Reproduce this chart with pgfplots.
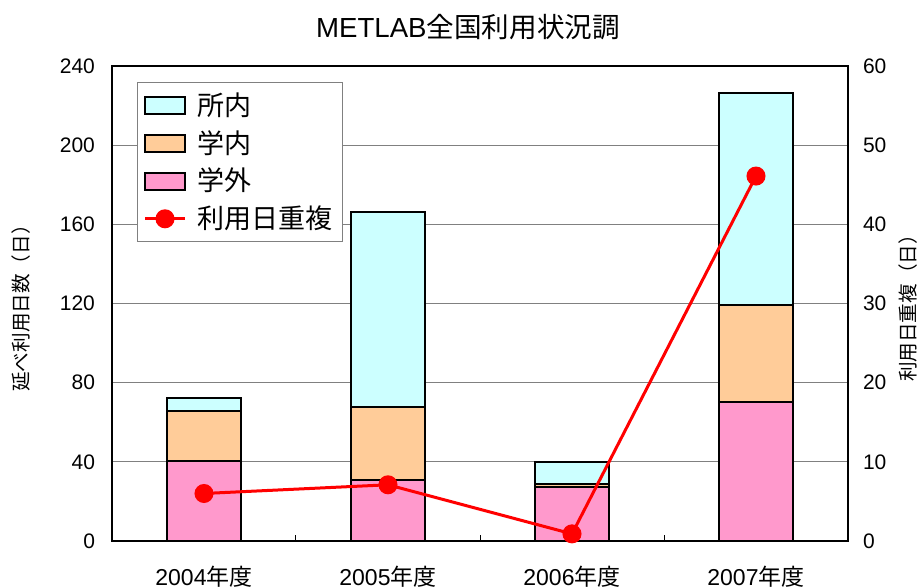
\documentclass[border=0pt]{standalone}
\usepackage{fontspec}
\setmainfont{Liberation Sans}
\newfontfamily\cjk{Noto Sans CJK JP}
\usepackage{pgfplots}
\pgfplotsset{compat=1.18}
\usetikzlibrary{calc}
\definecolor{cshonai}{HTML}{CCFFFF}
\definecolor{cgakunai}{HTML}{FFCC99}
\definecolor{cgakugai}{HTML}{FF99CC}
\pgfplotsset{
  swatch/.style={legend image code/.code={\draw[##1,line width=1pt] (0pt,-4.25pt) rectangle (20pt,4.25pt); \path (23.5pt,0pt);}},
  linelegend/.style={legend image code/.code={\draw[##1] (0pt,0pt) -- (20pt,0pt); \draw[##1] plot[only marks] coordinates {(10pt,0pt)}; \path (23.5pt,0pt);}},
}
\begin{document}
\begin{tikzpicture}
\begin{axis}[name=ax, scale only axis, width=368pt, height=237.5pt,
  xmin=-0.5, xmax=3.5, ymin=0, ymax=240,
  ybar stacked, bar width=0.4,
  xtick={0,1,2,3},
  xticklabels={2004{\cjk 年度},2005{\cjk 年度},2006{\cjk 年度},2007{\cjk 年度}},
  major x tick style={draw=none},
  minor xtick={0.5,1.5,2.5},
  minor tick length=3pt,
  xtick pos=bottom, ytick pos=left,
  tick align=inside,
  minor x tick style={black, line width=0.5pt},
  ytick={0,40,...,240},
  ytick style={draw=none},
  ymajorgrids, grid style={gray, line width=0.5pt},
  axis line style={black, line width=1.2pt},
  /pgf/number format/assume math mode=true,
  tick label style={font=\fontsize{10.5}{12}\selectfont},
  yticklabel style={xshift=-5pt},
  xticklabel style={yshift=-9pt, font=\fontsize{11.5}{13}\selectfont},
  ylabel={\cjk 延べ利用日数（日）},
  ylabel style={at={(axis description cs:-0.124,0.5)}, anchor=center, font=\fontsize{9.8}{11}\selectfont},
  title={METLAB{\cjk 全国利用状況調}},
  title style={at={(axis description cs:0.4837,1.057)}, anchor=center, font=\fontsize{13.8}{15}\selectfont},
]
\addplot[draw=black, line width=1pt, fill=cgakugai] coordinates {(0,40.6) (1,30.8) (2,27.1) (3,70.2)};
\addplot[draw=black, line width=1pt, fill=cgakunai] coordinates {(0,25.1) (1,37.1) (2,1.5) (3,49.2)};
\addplot[draw=black, line width=1pt, fill=cshonai] coordinates {(0,6.4) (1,98.3) (2,11.2) (3,107.1)};
\end{axis}
\begin{axis}[scale only axis, width=368pt, height=237.5pt,
  xmin=-0.5, xmax=3.5, ymin=0, ymax=60,
  axis x line=none, axis y line*=right,
  ytick={0,10,...,60},
  ytick style={draw=none},
  axis line style={black, line width=1.2pt},
  /pgf/number format/assume math mode=true,
  tick label style={font=\fontsize{10.5}{12}\selectfont},
  yticklabel style={xshift=4pt},
  ylabel={\cjk 利用日重複（日）},
  ylabel style={at={(axis description cs:1.0815,0.5)}, anchor=center, rotate=0, font=\fontsize{9.8}{11}\selectfont},
  legend cell align=left,
  legend style={at={(axis description cs:0.034,0.966)}, anchor=north west, draw=gray, line width=0.5pt, fill=white,
    font=\cjk\fontsize{13.5}{15}\selectfont, row sep=2pt, inner xsep=3pt, inner ysep=3pt},
]
\addlegendimage{swatch, fill=cshonai, draw=black}
\addlegendentry{所内}
\addlegendimage{swatch, fill=cgakunai, draw=black}
\addlegendentry{学内}
\addlegendimage{swatch, fill=cgakugai, draw=black}
\addlegendentry{学外}
\addplot[red, line width=1.5pt, mark=*, mark size=4pt, linelegend]
  coordinates {(0,6.0) (1,7.1) (2,0.9) (3,46.1)};
\addlegendentry{利用日重複}
\end{axis}
\pgfresetboundingbox
\path[use as bounding box] ($(ax.south west)+(-56pt,-23.5pt)$) rectangle ($(ax.north east)+(37.5pt,33pt)$);
\end{tikzpicture}
\end{document}
